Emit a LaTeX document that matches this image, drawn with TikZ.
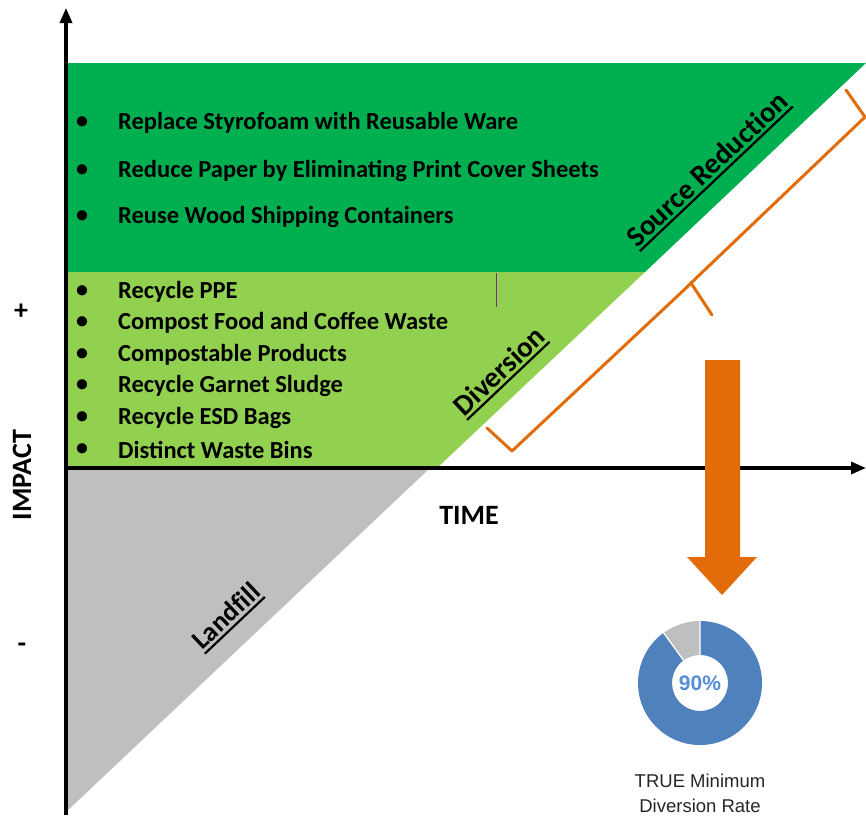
\documentclass[tikz,border=0pt]{standalone}
\usepackage{fontspec}
\setmainfont{Carlito}
\newfontfamily\chartfont{Liberation Sans}
\newfontfamily\plainlig[Ligatures={NoCommon}]{Carlito}
\usetikzlibrary{arrows.meta}

\definecolor{darkgreen}{HTML}{00B050}
\definecolor{lightgreen}{HTML}{92D050}
\definecolor{landgray}{HTML}{BFBFBF}
\definecolor{bracketorange}{HTML}{E36C0A}
\definecolor{ringblue}{HTML}{4F81BD}
\definecolor{pctblue}{HTML}{558ED5}
\definecolor{markpurple}{HTML}{7030A0}

\tikzset{
  axisline/.style={line width=3.2pt, -{Triangle[length=15pt,width=12pt]}},
  item/.style={anchor=west, inner sep=0pt, font=\fontsize{24.5}{26}\selectfont\bfseries},
  dot/.style={inner sep=0pt, font=\fontsize{24}{26}\selectfont\bfseries},
  slopelabel/.style={rotate=43.4, inner sep=0pt, text depth=3.5pt,
    font=\plainlig\fontsize{29}{30}\selectfont\bfseries},
  uline/.style={line width=2.2pt},
  axislabel/.style={inner sep=0pt, font=\fontsize{28}{30}\selectfont\bfseries},
  bracket/.style={draw=bracketorange, line width=3pt, line join=round, line cap=round},
}

\begin{document}
\begin{tikzpicture}[x=1pt, y=-1pt]
\useasboundingbox (0,0) rectangle (866,825);

% impact bands
\fill[darkgreen] (66,63) -- (866,63) -- (645,272) -- (66,272) -- cycle;
\fill[lightgreen] (66,272) -- (645,272) -- (437,468) -- (66,468) -- cycle;
\fill[landgray] (66,468) -- (430,468) -- (66,812) -- cycle;

% small marker line
\draw[markpurple, line width=1pt] (496,273) -- (496,307);

% axes
\draw[axisline] (66,815) -- (66,8);
\draw[axisline] (66,468) -- (866,468);

% source reduction actions
\foreach \yy/\txt [count=\i] in {123/Replace Styrofoam with Reusable Ware,
                     171/Reduce Paper by Eliminating Print Cover Sheets,
                     217/Reuse Wood Shipping Containers}{
  \node[dot] (sb\i) at (82,\yy) {•};
  \node[item] (st\i) at (118,\yy) {\txt};
}

% diversion actions
\foreach \yy/\txt [count=\i] in {292/Recycle PPE,
                     323/Compost Food and Coffee Waste,
                     355/Compostable Products,
                     386/Recycle Garnet Sludge,
                     418/Recycle ESD Bags,
                     450/Distinct Waste Bins}{
  \node[dot] (db\i) at (82,\yy) {•};
  \node[item] (dt\i) at (118,\yy) {\txt};
}

% band labels along the slope, each underlined
\node[slopelabel] (srclabel) at (708,170) {Source Reduction};
\node[slopelabel] (divlabel) at (500,372) {Diversion};
\node[slopelabel, font=\plainlig\fontsize{27}{28}\selectfont\bfseries] (landlabel) at (227,617) {Landfill};
\foreach \lbl in {srclabel, divlabel, landlabel}
  \draw[uline] (\lbl.south west) -- (\lbl.south east);

% axis labels
\node[axislabel] (plus) at (21,312) {+};
\node[axislabel] (minus) at (22,648) {-};
\node[axislabel, rotate=90] (impact) at (22,475) {IMPACT};
\node[axislabel] (time) at (469,515) {TIME};

% orange brace
\draw[bracket] (846,90) -- (865,117) -- (691,283) -- (712,315);
\draw[bracket] (487,428) -- (512,451) -- (685,289) -- (691,283);

% down arrow
\fill[bracketorange] (705,360) -- (740,360) -- (740,557) -- (757,557)
  -- (722,595) -- (687,557) -- (705,557) -- cycle;

% diversion rate ring
\begin{scope}[shift={(700,683)}, x=1pt, y=1pt]
  \fill[ringblue] (90:62) arc[start angle=90, end angle=-234, radius=62]
    -- (-234:28) arc[start angle=-234, end angle=90, radius=28] -- cycle;
  \fill[landgray] (90:62) arc[start angle=90, end angle=126, radius=62]
    -- (126:28) arc[start angle=126, end angle=90, radius=28] -- cycle;
  \draw[white, line width=1.2pt] (90:27) -- (90:63) (126:27) -- (126:63);
  \node[text=pctblue, font=\chartfont\fontsize{21}{23}\selectfont\bfseries] (pct) at (0,0) {90\%};
\end{scope}
\node[align=center, font=\chartfont\fontsize{18.5}{25}\selectfont, text=black!85] (ratelabel) at (700,793)
  {TRUE Minimum\\Diversion Rate};

\end{tikzpicture}
\end{document}
